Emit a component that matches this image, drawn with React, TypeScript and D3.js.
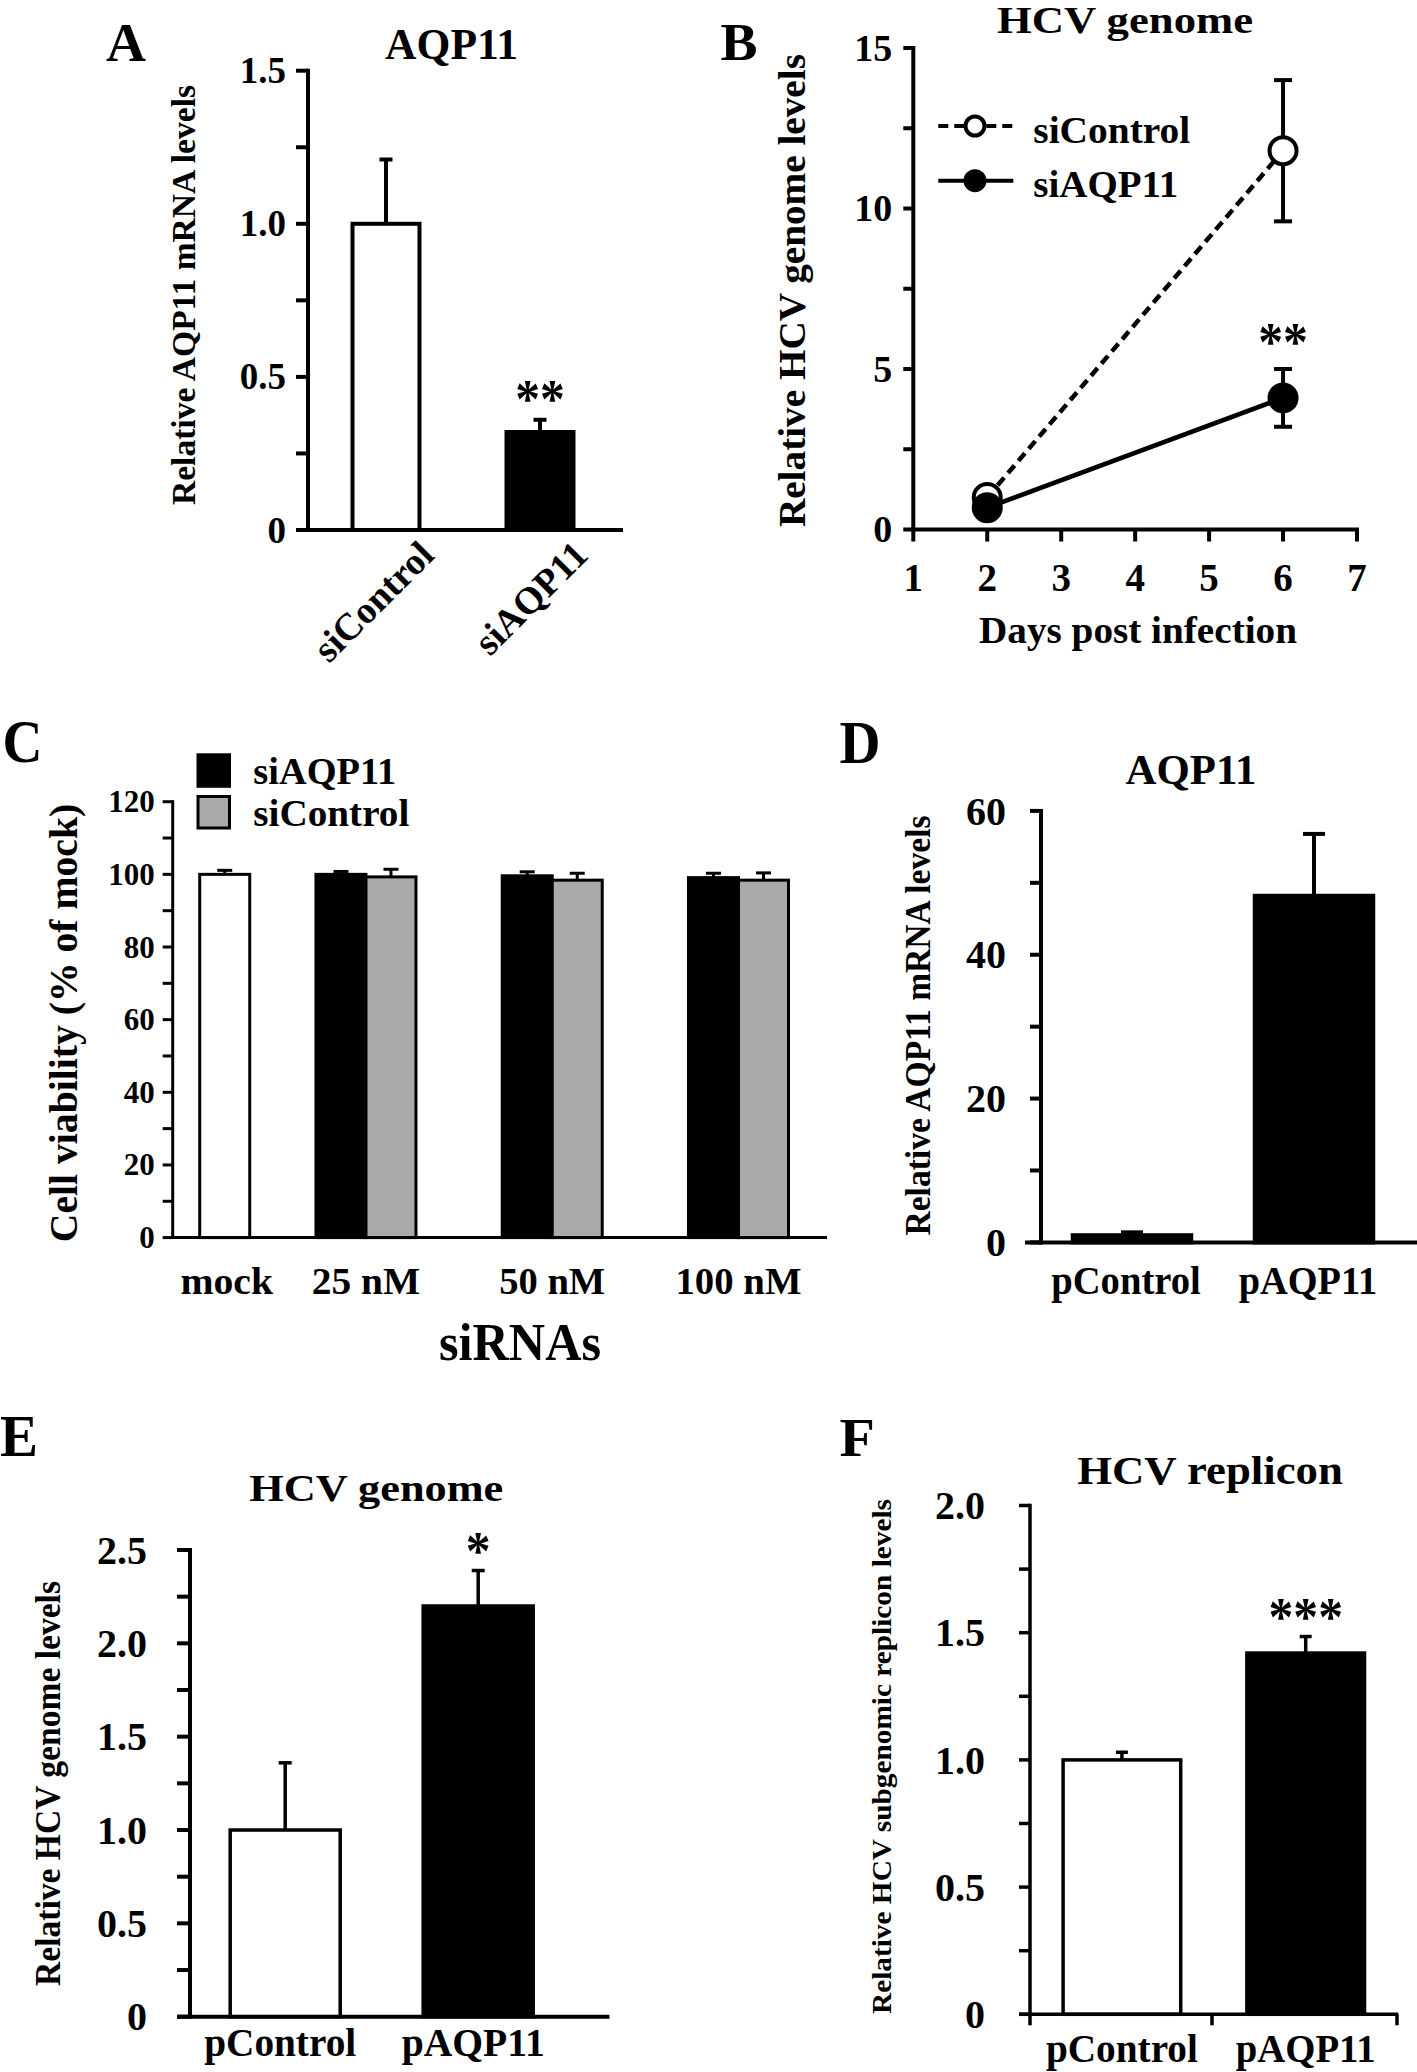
import React from "react";
import * as d3 from "d3";

const W = 1417;
const H = 2072;
const FONT = "'Liberation Serif', 'Times New Roman', serif";
const GRAY = "#aaaaaa";

// Panel A - AQP11 knockdown
const aCats = ["siControl", "siAQP11"];
const aMeans = [1.0, 0.32];
const aErrs = [0.21, 0.04];
const aMajor = [0, 0.5, 1.0, 1.5];
const aMinor = [0.25, 0.75, 1.25];

// Panel B - HCV genome time course
const bDays = [2, 6];
const bControl = [1.0, 11.8];
const bControlErr = [0.3, 2.2];
const bAqp = [0.68, 4.1];
const bAqpErr = [0.1, 0.9];
const bMajor = [0, 5, 10, 15];
const bMinor = [2.5, 7.5, 12.5];
const bXTicks = [1, 2, 3, 4, 5, 6, 7];

// Panel C - cell viability
const cGroups = ["mock", "25 nM", "50 nM", "100 nM"];
const cMock = 100;
const cMockErr = 1.1;
const cAqp = [100, 99.6, 99.1];
const cAqpErr = [0.8, 1.1, 1.2];
const cCtrl = [99.3, 98.4, 98.4];
const cCtrlErr = [2.1, 1.9, 2.0];
const cMajor = [0, 20, 40, 60, 80, 100, 120];
const cMinor = [10, 30, 50, 70, 90, 110];

// Panel D - AQP11 overexpression
const dCats = ["pControl", "pAQP11"];
const dMeans = [1.0, 48.2];
const dErrs = [0.4, 8.6];
const dMajor = [0, 20, 40, 60];
const dMinor = [10, 30, 50];

// Panel E - HCV genome
const eCats = ["pControl", "pAQP11"];
const eMeans = [1.0, 2.2];
const eErrs = [0.36, 0.19];
const eMajor = [0, 0.5, 1.0, 1.5, 2.0, 2.5];
const eMinor = [0.25, 0.75, 1.25, 1.75, 2.25];

// Panel F - HCV replicon
const fCats = ["pControl", "pAQP11"];
const fMeans = [1.0, 1.42];
const fErrs = [0.03, 0.065];
const fMajor = [0, 0.5, 1.0, 1.5, 2.0];
const fMinor = [0.25, 0.75, 1.25, 1.75];

const fmt1 = (v: number) => (v === 0 ? "0" : d3.format(".1f")(v));
const fmt0 = (v: number) => String(v);

type TxtProps = {
  x: number;
  y: number;
  size: number;
  len?: number;
  anchor?: "start" | "middle" | "end";
  rotate?: number;
  children: React.ReactNode;
};

const Txt = ({ x, y, size, len, anchor = "middle", rotate = 0, children }: TxtProps) => (
  <text
    transform={`translate(${x},${y})${rotate ? ` rotate(${rotate})` : ""}`}
    fontSize={size}
    textAnchor={anchor}
    {...(len ? { textLength: len, lengthAdjust: "spacingAndGlyphs" } : {})}
  >
    {children}
  </text>
);

// asterisks are positioned by their visual centre
const Stars = ({ x, y, n, size = 54 }: { x: number; y: number; n: number; size?: number }) => (
  <Txt x={x} y={y + 0.47 * size} size={size} len={n * 0.46 * size}>
    {"*".repeat(n)}
  </Txt>
);

type YAxisProps = {
  y: d3.ScaleLinear<number, number>;
  x: number;
  major: number[];
  minor: number[];
  fmt: (v: number) => string;
  tick: number;
  gap: number;
  size: number;
  sw: number;
};

const YAxis = ({ y, x, major, minor, fmt, tick, gap, size, sw }: YAxisProps) => (
  <g stroke="#000" strokeWidth={sw}>
    <line x1={x} x2={x} y1={y(d3.max(major) as number)} y2={y(0)} strokeLinecap="square" />
    {[...major, ...minor].map((v) => (
      <line key={v} x1={x - tick} x2={x} y1={y(v)} y2={y(v)} />
    ))}
    <g stroke="none">
      {major.map((v) => (
        <Txt key={v} x={x - tick - gap} y={y(v) + 0.34 * size} size={size} anchor="end">
          {fmt(v)}
        </Txt>
      ))}
    </g>
  </g>
);

const ErrUp = ({ x, y0, y1, cap, sw }: { x: number; y0: number; y1: number; cap: number; sw: number }) => (
  <g stroke="#000" strokeWidth={sw}>
    <line x1={x} x2={x} y1={y0} y2={y1} />
    <line x1={x - cap / 2} x2={x + cap / 2} y1={y1} y2={y1} />
  </g>
);

// simple two-bar panel used by A, D, E, F
type BarPanelProps = {
  cats: string[];
  means: number[];
  errs: number[];
  x: d3.ScaleBand<string>;
  y: d3.ScaleLinear<number, number>;
  fills: string[];
  sw: number;
  cap: number;
};

const Bars = ({ cats, means, errs, x, y, fills, sw, cap }: BarPanelProps) => (
  <g>
    {cats.map((c, i) => {
      const cx = (x(c) as number) + x.bandwidth() / 2;
      return (
        <g key={c}>
          <ErrUp x={cx} y0={y(means[i])} y1={y(means[i] + errs[i])} cap={cap} sw={sw} />
          <rect
            x={x(c)}
            width={x.bandwidth()}
            y={y(means[i])}
            height={y(0) - y(means[i])}
            fill={fills[i]}
            stroke="#000"
            strokeWidth={sw}
          />
        </g>
      );
    })}
  </g>
);

function PanelA() {
  const y = d3.scaleLinear().domain([0, 1.5]).range([530, 70.7]);
  const x = d3.scaleBand<string>().domain(aCats).range([309, 617]).paddingInner(0.565).paddingOuter(0.2825);
  return (
    <g>
      <Txt x={106} y={61} size={54} len={40} anchor="start">A</Txt>
      <Txt x={451.6} y={59} size={44} len={133}>AQP11</Txt>
      <Txt x={195} y={295} size={34} len={420} rotate={-90}>Relative AQP11 mRNA levels</Txt>
      <Bars cats={aCats} means={aMeans} errs={aErrs} x={x} y={y} fills={["#fff", "#000"]} sw={4} cap={13} />
      <YAxis y={y} x={308} major={aMajor} minor={aMinor} fmt={fmt1} tick={12} gap={10} size={37} sw={4} />
      <line x1={308} x2={623} y1={y(0)} y2={y(0)} stroke="#000" strokeWidth={4} />
      <Stars x={(x("siAQP11") as number) + x.bandwidth() / 2} y={392} n={2} />
      {aCats.map((c) => (
        <Txt key={c} x={(x(c) as number) + x.bandwidth() / 2 + 50} y={557} size={38} anchor="end" rotate={-45}>
          {c}
        </Txt>
      ))}
    </g>
  );
}

function PanelB() {
  const x = d3.scaleLinear().domain([1, 7]).range([913.3, 1357]);
  const y = d3.scaleLinear().domain([0, 15]).range([529.5, 48]);
  const line = d3
    .line<number>()
    .x((_, i) => x(bDays[i]))
    .y((v) => y(v));
  const series = [
    { name: "siControl", vals: bControl, errs: bControlErr, dash: "10,6", fill: "#fff" },
    { name: "siAQP11", vals: bAqp, errs: bAqpErr, dash: undefined, fill: "#000" },
  ];
  return (
    <g>
      <Txt x={720.6} y={60} size={52} len={37} anchor="start">B</Txt>
      <Txt x={1125} y={33} size={37} len={256}>HCV genome</Txt>
      <Txt x={805} y={290.6} size={38} len={473} rotate={-90}>Relative HCV genome levels</Txt>
      <YAxis y={y} x={913.3} major={bMajor} minor={bMinor} fmt={fmt0} tick={10} gap={11} size={38} sw={4} />
      <g stroke="#000" strokeWidth={4}>
        <line x1={913.3} x2={1357} y1={y(0)} y2={y(0)} strokeLinecap="square" />
        {bXTicks.map((d) => (
          <line key={d} x1={x(d)} x2={x(d)} y1={y(0)} y2={y(0) + 12} />
        ))}
      </g>
      {bXTicks.map((d) => (
        <Txt key={d} x={x(d)} y={591} size={39}>{d}</Txt>
      ))}
      <Txt x={1138} y={643} size={37} len={318}>Days post infection</Txt>
      {series.map((s) => (
        <path key={s.name} d={line(s.vals) as string} fill="none" stroke="#000" strokeWidth={4.5} strokeDasharray={s.dash} />
      ))}
      {series.map((s) =>
        s.vals.map((v, i) => (
          <g key={s.name + i} stroke="#000" strokeWidth={4}>
            <line x1={x(bDays[i])} x2={x(bDays[i])} y1={y(v - s.errs[i])} y2={y(v + s.errs[i])} />
            <line x1={x(bDays[i]) - 9} x2={x(bDays[i]) + 9} y1={y(v - s.errs[i])} y2={y(v - s.errs[i])} />
            <line x1={x(bDays[i]) - 9} x2={x(bDays[i]) + 9} y1={y(v + s.errs[i])} y2={y(v + s.errs[i])} />
          </g>
        ))
      )}
      {series.map((s) =>
        s.vals.map((v, i) => (
          <circle key={s.name + "m" + i} cx={x(bDays[i])} cy={y(v)} r={13.5} fill={s.fill} stroke="#000" strokeWidth={4} />
        ))
      )}
      <Stars x={x(6)} y={335} n={2} />
      {/* legend */}
      {series.map((s, i) => {
        const ly = 126 + i * 54.7;
        return (
          <g key={s.name}>
            <line x1={938.3} x2={1013.3} y1={ly} y2={ly} stroke="#000" strokeWidth={4} strokeDasharray={s.dash} />
            <circle cx={975} cy={ly} r={9.5} fill={s.fill} stroke="#000" strokeWidth={4} />
            <Txt x={1033.3} y={ly + 16.7} size={38} len={i === 0 ? 157 : 145} anchor="start">
              {s.name}
            </Txt>
          </g>
        );
      })}
    </g>
  );
}

function PanelC() {
  const y = d3.scaleLinear().domain([0, 120]).range([1237.6, 801.7]);
  const x = d3.scaleBand<string>().domain(cGroups).range([86.6, 831.6]).paddingInner(0.463).paddingOuter(0.2315);
  const half = x.bandwidth() / 2;
  const mockShift = 45;
  const mockX = (x("mock") as number) + half + mockShift;
  const conc = cGroups.slice(1);
  const labelLens = [92.6, 108.5, 106, 126];
  return (
    <g>
      <Txt x={2.6} y={762} size={62} len={40} anchor="start">C</Txt>
      <Txt x={77} y={1023} size={40} len={438.5} rotate={-90}>Cell viability (% of mock)</Txt>
      {/* mock */}
      <ErrUp x={mockX} y0={y(cMock)} y1={y(cMock + cMockErr)} cap={15} sw={3} />
      <rect x={mockX - half / 2} width={half} y={y(cMock)} height={y(0) - y(cMock)} fill="#fff" stroke="#000" strokeWidth={3} />
      {conc.map((g, i) => {
        const gx = x(g) as number;
        return (
          <g key={g}>
            <ErrUp x={gx + half / 2} y0={y(cAqp[i])} y1={y(cAqp[i] + cAqpErr[i])} cap={15} sw={3} />
            <ErrUp x={gx + half * 1.5} y0={y(cCtrl[i])} y1={y(cCtrl[i] + cCtrlErr[i])} cap={15} sw={3} />
            <rect x={gx} width={half} y={y(cAqp[i])} height={y(0) - y(cAqp[i])} fill="#000" stroke="#000" strokeWidth={3} />
            <rect x={gx + half} width={half} y={y(cCtrl[i])} height={y(0) - y(cCtrl[i])} fill={GRAY} stroke="#000" strokeWidth={3} />
          </g>
        );
      })}
      <YAxis y={y} x={172.7} major={cMajor} minor={cMinor} fmt={fmt0} tick={10} gap={8} size={31} sw={3} />
      <line x1={172.7} x2={827} y1={y(0)} y2={y(0)} stroke="#000" strokeWidth={3} />
      {cGroups.map((g, i) => (
        <Txt key={g} x={g === "mock" ? mockX + 2 : (x(g) as number) + half} y={1294} size={38} len={labelLens[i]}>
          {g}
        </Txt>
      ))}
      <Txt x={520} y={1360} size={52} len={162}>siRNAs</Txt>
      {/* legend */}
      <rect x={198} y={754.8} width={31.5} height={31.5} fill="#000" stroke="#000" strokeWidth={3} />
      <rect x={198} y={796.5} width={31.5} height={31.5} fill={GRAY} stroke="#000" strokeWidth={3} />
      <Txt x={253.3} y={784} size={37} len={143} anchor="start">siAQP11</Txt>
      <Txt x={253.3} y={826} size={37} len={156} anchor="start">siControl</Txt>
    </g>
  );
}

function PanelD() {
  const y = d3.scaleLinear().domain([0, 60]).range([1242.4, 810.9]);
  const x = d3.scaleBand<string>().domain(dCats).range([1041, 1405]).paddingInner(0.349).paddingOuter(0.1745);
  const lens = [149.6, 138.5];
  return (
    <g>
      <Txt x={839.4} y={763} size={62} len={41} anchor="start">D</Txt>
      <Txt x={1191} y={784} size={42} len={131}>AQP11</Txt>
      <Txt x={930} y={1025.5} size={36} len={420} rotate={-90}>Relative AQP11 mRNA levels</Txt>
      <Bars cats={dCats} means={dMeans} errs={dErrs} x={x} y={y} fills={["#000", "#000"]} sw={4} cap={22} />
      <YAxis y={y} x={1041} major={dMajor} minor={dMinor} fmt={fmt0} tick={11} gap={24} size={40} sw={4} />
      <line x1={1025} x2={1417} y1={y(0)} y2={y(0)} stroke="#000" strokeWidth={4} />
      {dCats.map((c, i) => (
        <Txt key={c} x={(x(c) as number) + x.bandwidth() / 2 - 6} y={1294} size={40} len={lens[i]}>
          {c}
        </Txt>
      ))}
    </g>
  );
}

function PanelE() {
  const y = d3.scaleLinear().domain([0, 2.5]).range([2016.7, 1550]);
  const x = d3.scaleBand<string>().domain(eCats).range([188.7, 574.7]).paddingInner(0.43).paddingOuter(0.215);
  const lens = [152, 143];
  return (
    <g>
      <Txt x={0} y={1456} size={60} len={38} anchor="start">E</Txt>
      <Txt x={376.3} y={1501} size={38} len={254}>HCV genome</Txt>
      <Txt x={60} y={1783.5} size={35} len={405} rotate={-90}>Relative HCV genome levels</Txt>
      <Bars cats={eCats} means={eMeans} errs={eErrs} x={x} y={y} fills={["#fff", "#000"]} sw={3.5} cap={13} />
      <YAxis y={y} x={190} major={eMajor} minor={eMinor} fmt={fmt1} tick={13} gap={30} size={40} sw={4} />
      <line x1={177} x2={609.4} y1={y(0)} y2={y(0)} stroke="#000" strokeWidth={4} />
      <Stars x={(x("pAQP11") as number) + x.bandwidth() / 2} y={1544} n={1} />
      {eCats.map((c, i) => (
        <Txt key={c} x={(x(c) as number) + x.bandwidth() / 2 - 5} y={2056} size={41} len={lens[i]}>
          {c}
        </Txt>
      ))}
    </g>
  );
}

function PanelF() {
  const y = d3.scaleLinear().domain([0, 2.0]).range([2014.3, 1505.5]);
  const x = d3.scaleBand<string>().domain(fCats).range([1030, 1397.6]).paddingInner(0.36).paddingOuter(0.18);
  const lens = [152, 140];
  const bounds = [1030, 1212, 1397];
  return (
    <g>
      <Txt x={839.4} y={1456} size={54} len={35.4} anchor="start">F</Txt>
      <Txt x={1210} y={1484} size={40} len={265.6}>HCV replicon</Txt>
      <Txt x={891} y={1756.5} size={28} len={515} rotate={-90}>Relative HCV subgenomic replicon levels</Txt>
      <Bars cats={fCats} means={fMeans} errs={fErrs} x={x} y={y} fills={["#fff", "#000"]} sw={3.5} cap={12} />
      <YAxis y={y} x={1030} major={fMajor} minor={fMinor} fmt={fmt1} tick={11} gap={34} size={40} sw={3.5} />
      <g stroke="#000" strokeWidth={3.5}>
        <line x1={1019} x2={1398.3} y1={y(0)} y2={y(0)} />
        {bounds.map((b) => (
          <line key={b} x1={b} x2={b} y1={y(0)} y2={y(0) + 11} />
        ))}
      </g>
      <Stars x={(x("pAQP11") as number) + x.bandwidth() / 2} y={1610} n={3} />
      {fCats.map((c, i) => (
        <Txt key={c} x={(x(c) as number) + x.bandwidth() / 2} y={2062} size={41} len={lens[i]}>
          {c}
        </Txt>
      ))}
    </g>
  );
}

export default function App() {
  return (
    <svg
      width={W}
      height={H}
      viewBox={`0 0 ${W} ${H}`}
      style={{ position: "absolute", left: 0, top: 0, background: "#fff" }}
      fontFamily={FONT}
      fontWeight="bold"
    >
      <rect width={W} height={H} fill="#fff" />
      <PanelA />
      <PanelB />
      <PanelC />
      <PanelD />
      <PanelE />
      <PanelF />
    </svg>
  );
}
